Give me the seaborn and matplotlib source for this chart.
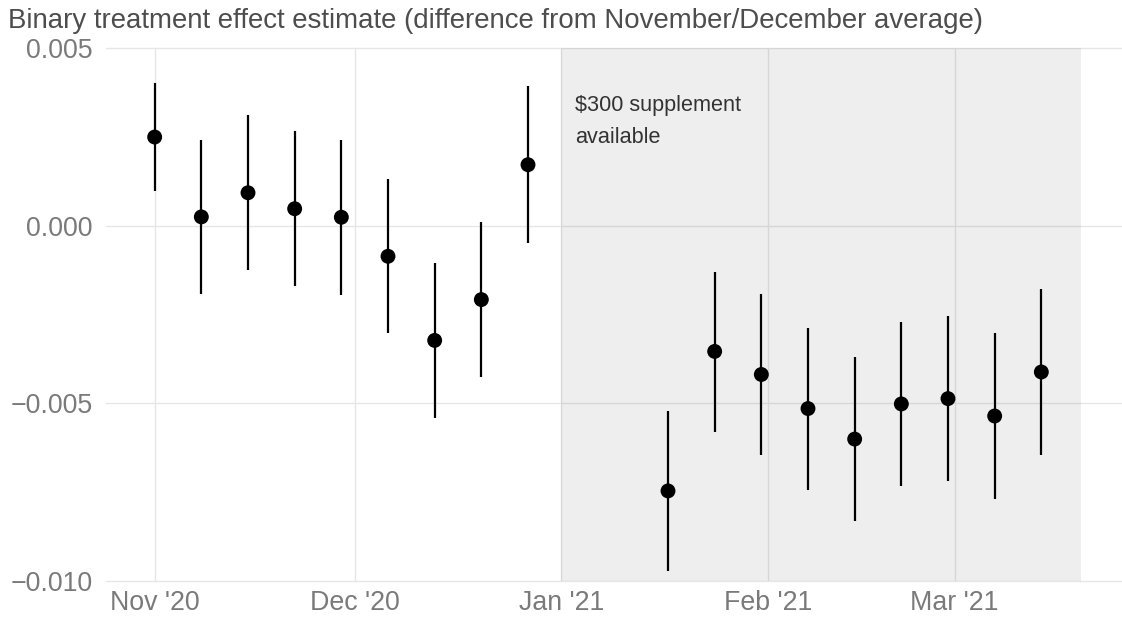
import matplotlib
matplotlib.use("Agg")
import matplotlib.pyplot as plt
import matplotlib.ticker as mticker
import pandas as pd
import seaborn as sns

# Weekly estimates (difference from the November/December average)
weeks = ["2020-11-01", "2020-11-08", "2020-11-15", "2020-11-22", "2020-11-29",
         "2020-12-06", "2020-12-13", "2020-12-20", "2020-12-27",
         "2021-01-17", "2021-01-24", "2021-01-31", "2021-02-07", "2021-02-14",
         "2021-02-21", "2021-02-28", "2021-03-07", "2021-03-14"]
estimate = [0.00250, 0.00025, 0.00093, 0.00048, 0.00024, -0.00086, -0.00323, -0.00208, 0.00172,
            -0.00747, -0.00354, -0.00419, -0.00515, -0.00601, -0.00502, -0.00487, -0.00536, -0.00412]
ci_low = [0.00097, -0.00192, -0.00124, -0.00170, -0.00196, -0.00303, -0.00542, -0.00426, -0.00049,
          -0.00973, -0.00582, -0.00647, -0.00744, -0.00831, -0.00733, -0.00719, -0.00769, -0.00647]
ci_high = [0.00403, 0.00243, 0.00312, 0.00266, 0.00243, 0.00133, -0.00106, 0.00012, 0.00394,
           -0.00522, -0.00129, -0.00192, -0.00287, -0.00371, -0.00271, -0.00254, -0.00302, -0.00178]

month_ticks = ["2020-11-01", "2020-12-01", "2021-01-01", "2021-02-01", "2021-03-01"]
month_labels = ["Nov '20", "Dec '20", "Jan '21", "Feb '21", "Mar '21"]
y_ticks = [0.005, 0.0, -0.005, -0.010]

supplement_start = "2021-01-01"
supplement_end = "2021-03-20"
supplement_label = "$300 supplement\navailable"
title = "Binary treatment effect estimate (difference from November/December average)"

df = pd.DataFrame({
    "week": pd.to_datetime(weeks),
    "estimate": estimate,
    "low": ci_low,
    "high": ci_high,
})

sns.set_theme(style="whitegrid")
plt.rcParams["font.family"] = ["Liberation Sans", "DejaVu Sans"]

fig = plt.figure(figsize=(11.22, 6.2), dpi=100)
ax = fig.add_axes([106 / 1122, 1 - 580.7 / 620, 1 - 106 / 1122, (580.7 - 48.3) / 620])

ax.set_axisbelow(True)
ax.grid(True, color="#e6e6e6", linewidth=1.0)
for s in ax.spines.values():
    s.set_visible(False)

# Shaded period when the supplement was available (drawn over the grid)
ax.axvspan(pd.Timestamp(supplement_start), pd.Timestamp(supplement_end),
           color="black", alpha=0.068, linewidth=0, zorder=1)

ax.vlines(df["week"], df["low"], df["high"], color="black", linewidth=1.6, zorder=3)
sns.scatterplot(data=df, x="week", y="estimate", ax=ax, color="black",
                s=115, edgecolor="none", zorder=4, legend=False)

origin = pd.Timestamp("2020-11-01")
ax.set_xlim(origin - pd.Timedelta(days=7.3), origin + pd.Timedelta(days=145.1))
ax.set_ylim(-0.010, 0.005)

ax.set_xticks(pd.to_datetime(month_ticks))
ax.set_xticklabels(month_labels)
ax.set_yticks(y_ticks)
ax.yaxis.set_major_formatter(mticker.FuncFormatter(lambda v, p: f"{v:.3f}".replace("-", "\u2212")))
ax.tick_params(axis="both", length=0, labelsize=19.3, labelcolor="#7a7a7a")
ax.tick_params(axis="y", pad=9.5)
ax.tick_params(axis="x", pad=7)
ax.set_xlabel("")
ax.set_ylabel("")
# keep the gridlines on the panel edges fully visible
for gl in ax.get_ygridlines() + ax.get_xgridlines():
    gl.set_clip_on(False)

# Annotation inside the shaded period; anchored at the baseline of its last line
ax.text(pd.Timestamp(supplement_start) + pd.Timedelta(days=2.1), 0.00234, supplement_label,
        ha="left", va="baseline", fontsize=15.6, color="#333333", linespacing=1.64, zorder=5)

fig.text(8 / 1122, 1 - 27.5 / 620, title, ha="left", va="baseline",
         fontsize=19.9, color="#4d4d4d")

fig.savefig("out.png", dpi=100)
